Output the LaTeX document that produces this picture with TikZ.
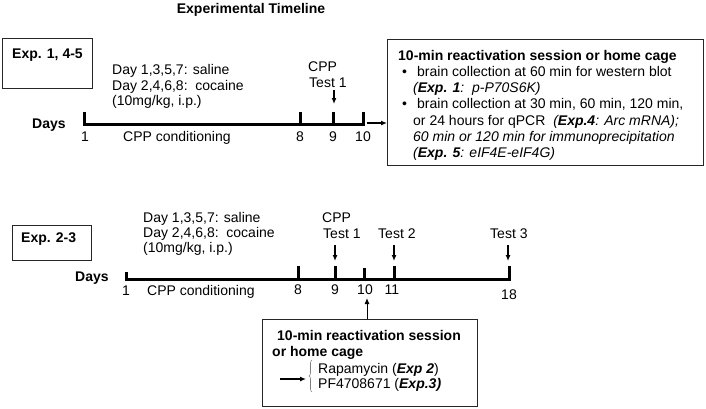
\documentclass[tikz,border=0pt]{standalone}
\usepackage{fontspec}
\setmainfont{Liberation Sans}
\usetikzlibrary{arrows.meta,decorations.pathreplacing}
\begin{document}
\begin{tikzpicture}[x=1pt,y=-1pt,
  font=\fontsize{14}{16}\selectfont,
  txt/.style={inner sep=0pt, anchor=base west},
  txtc/.style={inner sep=0pt, anchor=base},
  frame/.style={draw=black!85, line width=1.3pt, inner sep=0pt, anchor=north west},
  tline/.style={line width=3pt, line join=miter},
  arr/.style={line width=1.2pt, -{Latex[length=6pt,width=5pt]}},
]
\useasboundingbox (0,0) rectangle (706,408);

% title
\node[txtc, font=\fontsize{14}{16}\selectfont\bfseries] (title) at (251,13) {Experimental Timeline};

%%%%%%%% Panel 1
\node[frame, minimum width=90pt, minimum height=50pt] (exp1box) at (2,38) {};
\node[txt, font=\fontsize{14}{16}\selectfont\bfseries] (exp1) at (12,58) {Exp. 1, 4-5};

\node[txt] (d1a) at (112,74) {Day 1,3,5,7: saline};
\node[txt] (d1b) at (112,90) {Day 2,4,6,8:\ \ cocaine};
\node[txt] (d1c) at (112,105) {(10mg/kg, i.p.)};

\node[txt] (cpp1a) at (308,71) {CPP};
\node[txt] (cpp1b) at (309,87) {Test 1};

\node[txt, font=\fontsize{14}{16}\selectfont\bfseries] (days1) at (32,128) {Days};

\coordinate (p1s) at (84,124);
\coordinate (p18) at (300,124);
\coordinate (p19) at (333,124);
\coordinate (p110) at (363,124);
\draw[tline] (84,112) -- (p1s) -- (p110) -- (363,112);
\draw[tline] (p18) -- (300,112);
\draw[tline] (p19) -- (333,112);

\node[txtc] (n1a) at (85,141) {1};
\node[txt] (cc1) at (123,141) {CPP conditioning};
\node[txtc] (n8a) at (300,141) {8};
\node[txtc] (n9a) at (333,141) {9};
\node[txtc] (n10a) at (363,141) {10};

\coordinate (t1top) at (334,90);
\draw[arr] (t1top) -- (334,104);

\node[frame, minimum width=316pt, minimum height=126pt] (box1) at (387,39) {};
\coordinate (a1x) at (367,123);
\draw[arr] (a1x) -- (a1x -| box1.west);

\node[txt, font=\fontsize{14}{16}\selectfont\bfseries] (b1l1) at (398,60) {10-min reactivation session or home cage};
\node[txt] (b1bul1) at (402,76.3) {•};
\node[txt] (b1l2) at (417,76.3) {brain collection at 60 min for western blot};
\node[txt] (b1l3) at (413,92.6) {\itshape (\textbf{Exp. 1}:\ \ p-P70S6K)};
\node[txt] (b1bul2) at (402,108.9) {•};
\node[txt] (b1l4) at (417,108.9) {brain collection at 30 min, 60 min, 120 min,};
\node[txt] (b1l5) at (413,125.2) {or 24 hours for qPCR\ \ \textit{(\textbf{Exp.4}: Arc mRNA);}};
\node[txt] (b1l6) at (413,141.5) {\itshape 60 min or 120 min for immunoprecipitation};
\node[txt] (b1l7) at (413,157.8) {\itshape (\textbf{Exp. 5}: eIF4E-eIF4G)};

%%%%%%%% Panel 2
\node[frame, minimum width=79pt, minimum height=35pt] (exp2box) at (12,225) {};
\node[txt, font=\fontsize{14}{16}\selectfont\bfseries] (exp2) at (21,242) {Exp. 2-3};

\node[txt] (d2a) at (143,222) {Day 1,3,5,7: saline};
\node[txt] (d2b) at (143,237) {Day 2,4,6,8:\ \ cocaine};
\node[txt] (d2c) at (143,252) {(10mg/kg, i.p.)};

\node[txt] (cpp2a) at (322,222) {CPP};
\node[txt] (cpp2b) at (323,238) {Test 1};
\node[txt] (test2) at (378,238) {Test 2};
\node[txt] (test3) at (490,238) {Test 3};

\node[txt, font=\fontsize{14}{16}\selectfont\bfseries] (days2) at (75,281) {Days};

\coordinate (p2s) at (126,279);
\coordinate (p28) at (298,279);
\coordinate (p29) at (335,279);
\coordinate (p210) at (364,279);
\coordinate (p211) at (394,279);
\coordinate (p218) at (509,279);
\draw[tline] (126,272) -- (p2s) -- (p218) -- (509,266);
\draw[tline] (p28) -- (298,266);
\draw[tline] (p29) -- (335,266);
\draw[tline] (p210) -- (364,268);
\draw[tline] (p211) -- (394,266);

\node[txtc] (n1b) at (126,295) {1};
\node[txt] (cc2) at (147,295) {CPP conditioning};
\node[txtc] (n8b) at (298,294) {8};
\node[txtc] (n9b) at (335,294) {9};
\node[txtc] (n10b) at (365,294) {10};
\node[txtc] (n11b) at (392,294) {11};
\node[txtc] (n18b) at (509,299) {18};

\draw[arr] (335,245) -- (335,261);
\draw[arr] (394,245) -- (394,261);
\draw[arr] (508,245) -- (508,261);

\node[frame, minimum width=215pt, minimum height=87pt] (box2) at (262,319) {};
\coordinate (up10) at (367,298);
\draw[arr, line width=1pt] (up10 |- box2.north) -- (up10);

\node[txt, font=\fontsize{14}{16}\selectfont\bfseries] (b2l1) at (277,340) {10-min reactivation session};
\node[txt, font=\fontsize{14}{16}\selectfont\bfseries] (b2l2) at (272,356) {or home cage};
\node[txt] (rapa) at (318,373) {Rapamycin (\textbf{\textit{Exp 2}})};
\node[txt] (pf) at (318,388) {PF4708671 (\textbf{\textit{Exp.3)}}};
\coordinate (brb) at (312,392);
\coordinate (brt) at (312,360);
\draw[gray, line width=0.6pt, decorate, decoration={brace, amplitude=3pt}] (brb) -- (brt);
\coordinate (bra) at (306,379);
\draw[arr] (280,379) -- (bra);

\end{tikzpicture}
\end{document}
